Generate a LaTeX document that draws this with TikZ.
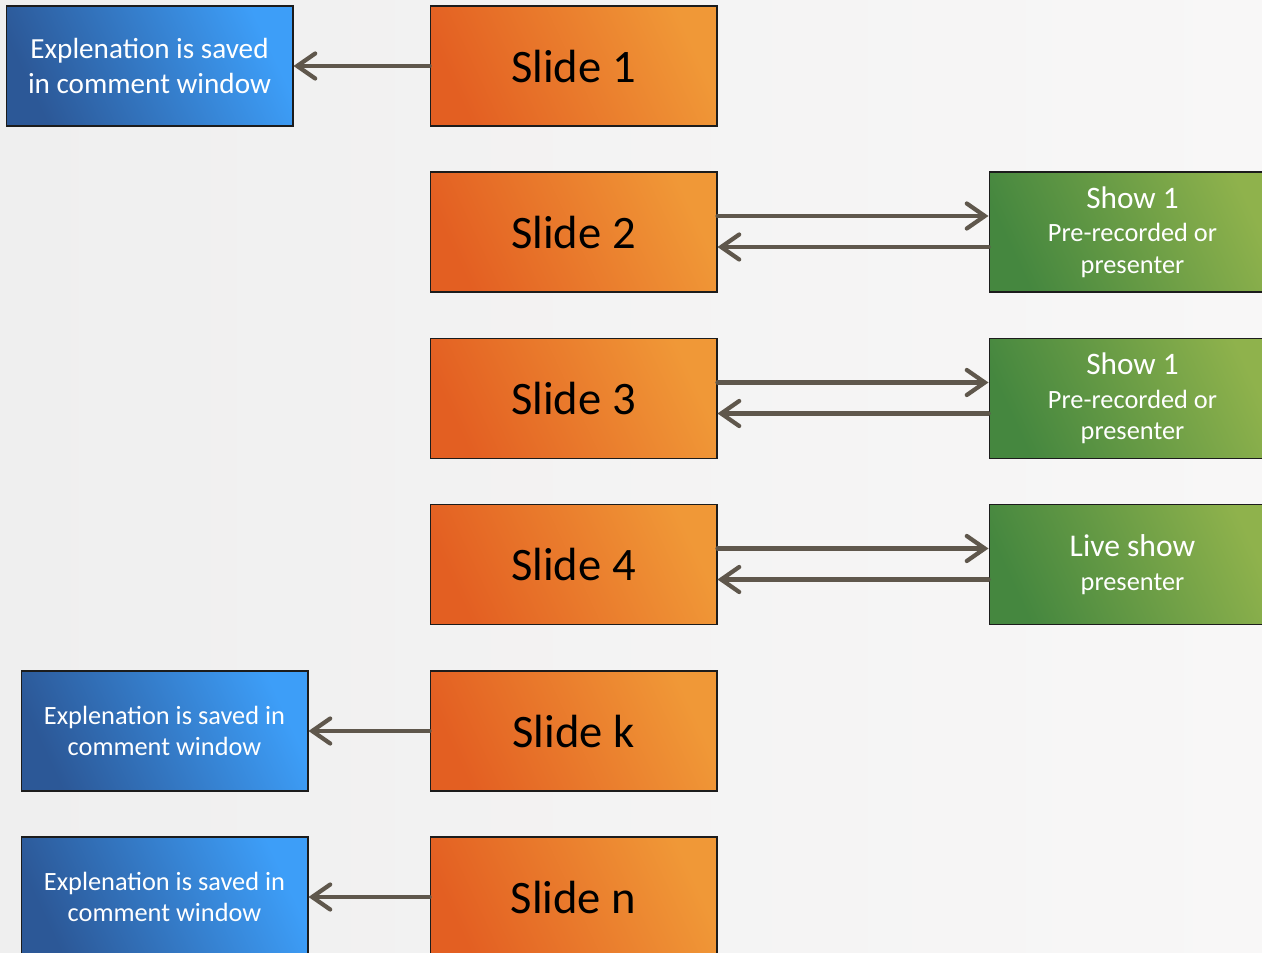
\documentclass[tikz,border=0pt]{standalone}
\usepackage{fontspec}
\setmainfont{Carlito}
\usetikzlibrary{arrows.meta}

\definecolor{slidedark}{HTML}{E35F22}
\definecolor{slidelight}{HTML}{F09837}
\definecolor{commentdark}{HTML}{2C5897}
\definecolor{commentlight}{HTML}{3D9EF8}
\definecolor{showdark}{HTML}{45873F}
\definecolor{showlight}{HTML}{8FB24C}
\definecolor{linkcolor}{HTML}{5F574C}
\definecolor{boxborder}{HTML}{1C1C1C}
\definecolor{bgleft}{HTML}{EFEFEF}
\definecolor{bgright}{HTML}{F8F7F7}

\newcommand{\boxwidth}{5.74cm}
\newcommand{\boxheight}{2.4cm}
\newcommand{\upshift}{0.32cm}
\newcommand{\downshift}{-0.30cm}

\begin{document}
\begin{tikzpicture}[
    x=0.02cm, y=-0.02cm,
    plain box/.style={draw=boxborder, line width=0.6pt, minimum width=\boxwidth, minimum height=\boxheight, inner sep=0pt, align=center},
    slide box/.style={plain box, left color=slidedark, right color=slidelight, shading angle=115, text=black, font=\fontsize{26.5}{30}\selectfont},
    comment box/.style={plain box, left color=commentdark, right color=commentlight, shading angle=115, text=white},
    show box/.style={plain box, left color=showdark, right color=showlight, shading angle=115, text=white, font=\fontsize{15}{18.1}\selectfont},
    link/.style={draw=linkcolor, line width=2.4pt, line cap=round, -{Straight Barb[length=0.36cm, width=0.5cm, line cap=round]}}
]

% BACKGROUND
\useasboundingbox (0,0) rectangle (1262,953);
\clip (0,0) rectangle (1262,953);
\shade[left color=bgleft, right color=bgright] (0,0) rectangle (1262,953);

% SLIDES
\node[slide box] (slide1) at (573.5,66) {Slide 1};
\node[slide box] (slide2) at (573.5,232) {Slide 2};
\node[slide box] (slide3) at (573.5,398.5) {Slide 3};
\node[slide box] (slide4) at (573.5,564.5) {Slide 4};
\node[slide box] (slidek) at (573.5,731) {Slide k};
\node[slide box] (sliden) at (573.5,897) {Slide n};

% COMMENTS
\node[comment box, font=\fontsize{16.6}{20.4}\selectfont] (comment1) at (149.5,66) {Explenation is saved\\in comment window};
\node[comment box, font=\fontsize{15}{18.1}\selectfont] (commentk) at (164.5,731) {Explenation is saved in\\comment window};
\node[comment box, font=\fontsize{15}{18.1}\selectfont] (commentn) at (164.5,897) {Explenation is saved in\\comment window};

% SHOWS
\node[show box] (show2) at (1132.5,232) {{\fontsize{17.8}{21}\selectfont Show 1}\\[1pt]Pre-recorded or\\presenter};
\node[show box] (show3) at (1132.5,398.5) {{\fontsize{17.8}{21}\selectfont Show 1}\\[1pt]Pre-recorded or\\presenter};
\node[show box] (show4) at (1132.5,564.5) {{\fontsize{18}{21}\selectfont Live show}\\[1pt]presenter};

% LINKS
\draw[link] (slide1) -- (comment1);
\draw[link] (slidek) -- (commentk);
\draw[link] (sliden) -- (commentn);

\draw[link] ([yshift=\upshift]slide2.east) -- ([yshift=\upshift]show2.west);
\draw[link] ([yshift=\downshift]show2.west) -- ([yshift=\downshift]slide2.east);
\draw[link] ([yshift=\upshift]slide3.east) -- ([yshift=\upshift]show3.west);
\draw[link] ([yshift=\downshift]show3.west) -- ([yshift=\downshift]slide3.east);
\draw[link] ([yshift=\upshift]slide4.east) -- ([yshift=\upshift]show4.west);
\draw[link] ([yshift=\downshift]show4.west) -- ([yshift=\downshift]slide4.east);

\end{tikzpicture}
\end{document}
